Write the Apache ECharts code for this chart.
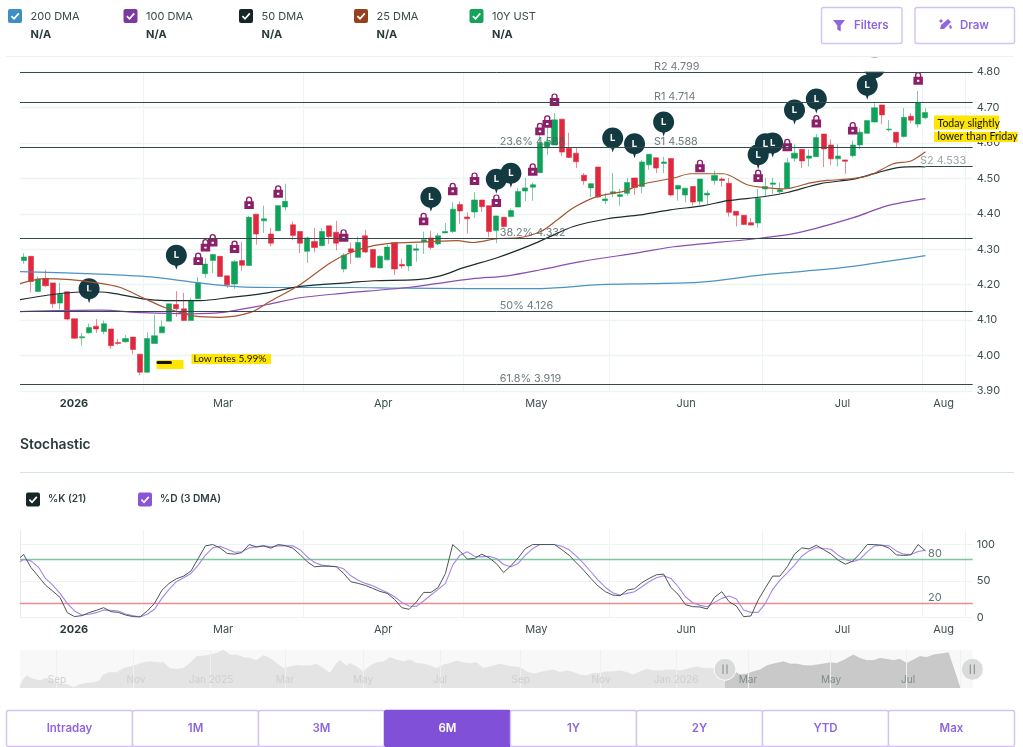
<!DOCTYPE html>
<html>
<head>
<meta charset="utf-8">
<title>10Y UST</title>
<style>html,body{margin:0;padding:0;background:#fff}#c{width:1023px;height:747px}</style>
<script src="https://cdn.jsdelivr.net/npm/echarts@6/dist/echarts.min.js"></script>
</head>
<body>
<div id="c"></div>
<script>
// [open, close, low, high] for each session
const candles = [
[4.268,4.278,4.259,4.289],[4.280,4.209,4.178,4.280],[4.181,4.216,4.181,4.223],[4.216,4.197,4.194,4.242],[4.205,4.146,4.134,4.205],
[4.148,4.173,4.130,4.205],[4.180,4.103,4.099,4.180],[4.104,4.049,4.047,4.104],[4.050,4.053,4.028,4.064],[4.064,4.079,4.062,4.090],
[4.083,4.075,4.064,4.103],[4.068,4.090,4.060,4.099],[4.075,4.028,4.019,4.075],[4.037,4.034,4.030,4.047],[4.039,4.048,4.036,4.058],
[4.052,4.017,4.004,4.052],[4.004,3.953,3.944,4.004],[3.953,4.048,3.951,4.066],[4.034,4.056,4.034,4.115],[4.064,4.081,4.064,4.099],
[4.097,4.146,4.097,4.146],[4.144,4.132,4.109,4.182],[4.132,4.099,4.098,4.177],[4.099,4.153,4.099,4.162],[4.160,4.206,4.160,4.222],
[4.231,4.258,4.219,4.275],[4.268,4.285,4.233,4.287],[4.280,4.223,4.222,4.280],[4.225,4.200,4.191,4.225],[4.202,4.265,4.188,4.270],
[4.268,4.255,4.239,4.321],[4.254,4.390,4.253,4.394],[4.399,4.343,4.313,4.399],[4.380,4.386,4.346,4.423],[4.343,4.317,4.308,4.360],
[4.352,4.423,4.352,4.423],[4.419,4.435,4.409,4.485],[4.369,4.339,4.325,4.378],[4.350,4.317,4.289,4.350],[4.294,4.332,4.261,4.336],
[4.322,4.305,4.291,4.360],[4.310,4.350,4.308,4.360],[4.366,4.336,4.315,4.366],[4.348,4.317,4.297,4.380],[4.244,4.283,4.235,4.289],
[4.301,4.292,4.259,4.319],[4.277,4.319,4.275,4.336],[4.338,4.292,4.289,4.355],[4.299,4.249,4.247,4.299],[4.247,4.280,4.247,4.283],
[4.270,4.306,4.268,4.313],[4.319,4.244,4.227,4.319],[4.257,4.253,4.245,4.272],[4.253,4.312,4.239,4.312],[4.297,4.301,4.265,4.315],
[4.321,4.327,4.287,4.349],[4.332,4.305,4.299,4.352],[4.315,4.338,4.312,4.346],[4.346,4.350,4.346,4.374],[4.350,4.413,4.346,4.433],
[4.426,4.408,4.372,4.435],[4.391,4.386,4.344,4.404],[4.405,4.439,4.388,4.461],[4.439,4.420,4.405,4.439],[4.423,4.350,4.334,4.423],
[4.353,4.394,4.317,4.394],[4.390,4.364,4.361,4.390],[4.392,4.409,4.390,4.415],[4.419,4.463,4.419,4.472],[4.464,4.473,4.435,4.501],
[4.475,4.482,4.437,4.488],[4.516,4.599,4.516,4.623],[4.586,4.603,4.566,4.651],[4.594,4.665,4.594,4.684],[4.667,4.574,4.563,4.667],
[4.585,4.559,4.557,4.629],[4.571,4.547,4.529,4.588],[4.509,4.493,4.482,4.515],[4.473,4.485,4.447,4.487],[4.532,4.447,4.444,4.532],
[4.437,4.442,4.427,4.458],[4.457,4.462,4.447,4.515],[4.449,4.454,4.423,4.470],[4.458,4.488,4.451,4.501],[4.501,4.474,4.453,4.501],
[4.477,4.546,4.458,4.552],[4.538,4.568,4.524,4.568],[4.558,4.529,4.515,4.558],[4.542,4.546,4.515,4.561],[4.556,4.453,4.449,4.556],
[4.470,4.480,4.437,4.480],[4.453,4.472,4.432,4.472],[4.477,4.433,4.423,4.477],[4.435,4.498,4.425,4.498],[4.453,4.458,4.425,4.466],
[4.494,4.508,4.482,4.522],[4.498,4.494,4.477,4.503],[4.486,4.404,4.392,4.501],[4.407,4.396,4.364,4.407],[4.396,4.370,4.368,4.396],
[4.375,4.368,4.367,4.388],[4.374,4.444,4.361,4.470],[4.470,4.477,4.447,4.501],[4.483,4.487,4.456,4.501],[4.462,4.468,4.458,4.489],
[4.472,4.544,4.472,4.557],[4.557,4.571,4.547,4.596],[4.582,4.549,4.529,4.582],[4.557,4.563,4.533,4.582],[4.561,4.615,4.560,4.625],
[4.625,4.583,4.532,4.625],[4.594,4.555,4.538,4.610],[4.555,4.563,4.533,4.596],[4.552,4.548,4.513,4.552],[4.564,4.594,4.559,4.606],
[4.594,4.630,4.582,4.641],[4.627,4.663,4.627,4.663],[4.659,4.699,4.657,4.712],[4.707,4.679,4.653,4.707],[4.637,4.639,4.632,4.665],
[4.630,4.602,4.588,4.630],[4.618,4.672,4.615,4.698],[4.675,4.664,4.655,4.684],[4.653,4.714,4.643,4.746],[4.671,4.686,4.667,4.698]
];
const totalSlots = 131;
const categories = Array.from({length: totalSlots}, (_, i) => 'd' + i);

// moving averages: [session position, yield]
const dma200 = [[0,4.237],[11,4.230],[18,4.222],[23.4,4.208],[30.3,4.194],[38.5,4.192],[45.4,4.192],[52.3,4.190],[61.9,4.189],[71.6,4.189],[79.8,4.200],[86.7,4.203],[93.6,4.207],[101.8,4.227],[107.3,4.237],[114.2,4.251],[124.5,4.282]];
const dma100 = [[0,4.124],[11,4.128],[16.9,4.121],[23.4,4.118],[27.5,4.121],[34,4.144],[38.5,4.163],[44,4.175],[53.3,4.192],[62.3,4.217],[67,4.225],[71.6,4.242],[77.1,4.265],[85.3,4.291],[89.9,4.307],[101.8,4.331],[106.9,4.346],[114.6,4.389],[119.3,4.423],[124.5,4.443]];
const dma50 = [[0,4.158],[5.5,4.175],[9.5,4.180],[12.4,4.177],[16.9,4.160],[20,4.155],[24.8,4.155],[28.9,4.164],[34,4.177],[38.5,4.195],[45.4,4.206],[48.6,4.211],[54.6,4.214],[57.8,4.225],[61,4.248],[65.6,4.276],[69.8,4.308],[72.5,4.332],[76.1,4.364],[80.8,4.386],[85.3,4.397],[89.4,4.411],[94,4.423],[97.3,4.437],[102.2,4.448],[105.5,4.460],[110.1,4.485],[114.6,4.498],[117.9,4.516],[120.7,4.530],[123.8,4.533],[124.5,4.532]];
const dma25 = [[0,4.203],[3.4,4.217],[6.9,4.214],[10.3,4.206],[13.8,4.192],[16.9,4.163],[20,4.135],[24.1,4.111],[27.5,4.108],[31.6,4.121],[34.4,4.153],[38.5,4.200],[42.7,4.262],[45.4,4.290],[48.6,4.310],[51.9,4.318],[56,4.321],[60.1,4.324],[62.3,4.319],[65.6,4.330],[68.4,4.332],[71.6,4.350],[73.9,4.383],[76.1,4.417],[79.4,4.449],[83,4.463],[85.3,4.482],[89.9,4.501],[92.2,4.513],[96.7,4.513],[100,4.482],[102.8,4.473],[105,4.470],[108.7,4.487],[111,4.494],[114.5,4.499],[117,4.510],[120.1,4.541],[122.5,4.549],[124.5,4.575]];

// stochastic
const stochK = [86.3,68.5,56.6,44.3,36,27.4,6.4,1,2.3,6.4,9.6,13.2,7.8,6.8,3.2,1,0.5,8.7,19.2,37,46.6,53,56.6,63.5,80.8,98.2,100,95.4,87.7,86.8,89,100,96.8,98.2,95,100,98.6,95,86.3,76.3,69.4,70.3,70.3,69.4,60.3,48.9,46.6,43.8,39.7,35.6,32.9,24.7,13.2,11,21,34.2,34.2,41,60.3,100,90.9,80,80.8,86.8,81.7,74,61.6,70.8,81.7,94.5,100,100,100,100,93,85.4,74.9,64.8,53.4,42.9,35.2,30.6,29.7,37.4,39.3,47.5,53.4,58.4,59.4,41,31.5,17.4,14.6,14.2,11.4,27.4,35.2,21.5,15.5,0.9,1.8,23.7,40.6,56.6,56.6,69.4,86.8,95.4,94,99,93,87.2,78.5,73,77.2,87.7,100,100,99,95,85.8,85,85.8,100,91.3];
const stochD = [79.5,77.6,69.4,53.4,44.3,32.9,19.2,8.7,3.2,4.1,6.4,10,9.6,8.7,4.6,2.3,0.5,4.1,11,26,38.4,48.9,54.3,60.3,71.7,85.4,95.4,97.7,93.6,89.5,90,95.4,96.8,98.2,96.8,98.2,98.2,98.2,93,83,75.3,71.7,70.3,69.9,66.7,57,51,46.6,43.4,38.4,34.2,28.3,20.5,15.5,15,22.4,30.6,38.4,46.6,71.7,85.4,90,84,83,84,80.8,72.6,69.4,74,85.4,94.5,100,100,100,97.7,93,84,74,62.6,51,41,33.8,30.6,32.9,35.2,42,48.9,54.3,57,53.4,42,28.3,20,16.4,14.6,20.5,26,29.2,25.1,10,6.8,6.8,19.2,38.4,51,61.2,71.7,84,91.3,95.9,94.5,93.6,85.4,79.5,76.3,79.9,90,98.2,99,98.2,91.3,86.8,86.3,90.4,92.2];
const stochKStart = 82;
const stochDStart = 76.3;
const stochLevels = [[80,'80','#7dc79b'],[20,'20','#ee8a90']];

// pivot and retracement levels
const levels = [4.799,4.714,4.588,4.332,4.126,3.919];
const s2Level = 4.533;
const s2Span = [124.5,131];
const levelNotes = [
  ['R2 4.799',87.1,4.799,'#4b5a5c'],['R1 4.714',87.1,4.714,'#4b5a5c'],['S1 4.588',87.1,4.588,'#4b5a5c'],
  ['S2 4.533',123.7,4.533,'#858f90'],['23.6% 4.588',65.9,4.588,'#4b5a5c'],['38.2% 4.332',65.9,4.332,'#4b5a5c'],
  ['50% 4.126',65.9,4.126,'#4b5a5c'],['61.8% 3.919',65.9,3.919,'#4b5a5c']
];

// news pins and paywalled-note locks: [session, yield]
const pins = [[21,4.277],[9,4.183],[56,4.441],[65,4.492],[67,4.509],[81,4.608],[84,4.592],[88,4.653],[101,4.561],[103,4.594],[102,4.592],[106,4.687],[109,4.718],[117,4.795],[116,4.757]];
const locks = [[24,4.273],[25,4.311],[26,4.325],[29,4.307],[31,4.431],[35,4.463],[44,4.339],[55,4.385],[59,4.470],[62,4.499],[65,4.437],[70,4.525],[71,4.639],[72,4.660],[73,4.722],[93,4.535],[101,4.507],[105,4.594],[109,4.661],[114,4.641],[123,4.782]];

// axis labels
const monthBoundaries = [17,39,61,81,102,124,130];
const monthLabels = {7.43:'2026',27.93:'Mar',49.95:'Apr',71:'May',91.6:'Jun',113.1:'Jul',127:'Aug'};
const stochTicks = [0,50,100];

// navigator history: [position, yield]
const navHistory = [[60,3.62],[70,3.86],[80,3.97],[100,3.86],[120,3.82],[140,3.89],[160,3.78],[180,3.71],[200,3.69],[220,3.60],[240,3.69],[260,3.73],[280,3.75],[300,3.82],[310,4.00],[330,4.08],[350,4.07],[370,4.21],[390,4.26],[410,4.32],[430,4.40],[450,4.42],[470,4.40],[490,4.40],[510,4.21],[530,4.18],[550,4.21],[570,4.37],[590,4.59],[610,4.61],[630,4.64],[650,4.69],[670,4.80],[690,4.64],[710,4.64],[730,4.56],[750,4.53],[770,4.46],[790,4.62],[810,4.53],[830,4.37],[850,4.21],[870,4.26],[890,4.30],[910,4.29],[930,4.29],[950,4.35],[970,4.21],[990,4.05],[1010,4.37],[1020,4.46],[1040,4.29],[1050,4.37],[1070,4.26],[1090,4.10],[1110,4.29],[1130,4.39],[1150,4.42],[1170,4.56],[1190,4.48],[1210,4.42],[1230,4.48],[1250,4.37],[1270,4.35],[1290,4.29],[1310,4.21],[1330,4.32],[1350,4.37],[1370,4.45],[1390,4.39],[1410,4.37],[1430,4.39],[1450,4.21],[1470,4.26],[1490,4.32],
[1500,4.35],[1520,4.29],[1540,4.26],[1560,4.24],[1580,4.10],[1600,4.03],[1620,4.08],[1640,4.13],[1660,4.16],[1680,4.08],[1700,4.13],[1720,4.08],[1740,4.00],[1760,3.97],[1780,4.05],[1800,4.05],[1820,4.10],[1840,4.10],[1860,4.13],[1880,4.08],[1900,4.00],[1920,4.10],[1940,4.18],[1960,4.13],[1980,4.13],[2000,4.16],[2020,4.16],[2040,4.13],[2060,4.18],[2090,4.26],[2110,4.21],[2140,4.21],[2175,4.16],[2200,4.13],[2220,4.00],[2240,4.03],[2260,4.10],[2280,4.16],[2300,4.29],[2320,4.35],[2350,4.42],[2370,4.35],[2390,4.35],[2410,4.30],[2430,4.29],[2450,4.32],[2470,4.35],[2490,4.39],[2510,4.37],[2530,4.46],[2560,4.64],[2580,4.53],[2600,4.46],[2620,4.46],[2640,4.53],[2660,4.50],[2680,4.46],[2700,4.50],[2720,4.37],[2740,4.48],[2760,4.59],[2780,4.56],[2800,4.64],[2820,4.67],[2845,4.71],[2880,3.58]];
const navSplit = 2175;
const navLabels = {171:'Sep',408:'Nov',633:'Jan 2025',855:'Mar',1089:'May',1320:'Jul',1562:'Sep',1803:'Nov',2028:'Jan 2026',2244:'Mar',2493:'May',2724:'Jul'};
const navBoundaries = [170,400,630,855,1090,1320,1560,1800,2030,2245,2490,2720,2880];

// interface text
const legendItems = [['200 DMA','#3e8ec4',8],['100 DMA','#7b3b9e',123.5],['50 DMA','#142628',239],['25 DMA','#96401f',354],['10Y UST','#15a35a',469.5]];
const stochLegend = [['%K (21)','#142628',26,48],['%D (3 DMA)','#8a56d8',138,160]];
const rangeButtons = ['Intraday','1M','3M','6M','1Y','2Y','YTD','Max'];
const activeRange = '6M';

const UI = 'Inter, "Noto Sans", sans-serif';
const NOTE = 'Lato, "Open Sans", sans-serif';
const INK = '#2f3e40', PURPLE = '#8e66e0', EDGE = '#d3c3f3';
const GRID = '#edf4f2', FIB = '#34494b';

const PIN = 'path://M10.5 0C4.7 0 0 4.7 0 10.5C0 15.9 4 20.3 9.2 20.9L10.5 25L11.8 20.9C17 20.3 21 15.9 21 10.5C21 4.7 16.3 0 10.5 0Z';
const LOCK = 'path://M1 7H13V19H1ZM5.5 11.5V14.5H8.5V11.5ZM3 7V4.5A4 4.5 0 0 1 11 4.5V7H9.2V4.5A2.2 2.7 0 0 0 4.8 4.5V7Z';

const g = [];
function rect(x, y, w, h, fill, stroke, r, lw, z) {
  g.push({type:'rect', z:z||50, silent:true, shape:{x, y, width:w, height:h, r:r||0},
    style:{fill:fill||'transparent', stroke:stroke||null, lineWidth:lw||1}});
}
function text(t, x, y, o) {
  o = o || {};
  g.push({type:'text', z:o.z||60, silent:true, x, y, style:{text:t, fill:o.color||INK,
    font:(o.weight||400)+' '+(o.size||12)+'px '+(o.family||UI),
    textAlign:o.align||'left', textVerticalAlign:'middle', verticalAlign:'middle'}});
}
function check(x, y, c) {
  rect(x, y, 14, 14, c, null, 2);
  g.push({type:'polyline', z:55, silent:true, shape:{points:[[x+3.4,y+7.2],[x+6,y+9.8],[x+10.8,y+4.4]]},
    style:{stroke:'#fff', lineWidth:1.7, fill:'none'}});
}
function poly(points, fill) {
  g.push({type:'polygon', z:60, silent:true, shape:{points}, style:{fill}});
}
legendItems.forEach(([n,c,x]) => {
  check(x, 9, c);
  text(n, x+22.5, 16.5, {size:11, color:'#3a4a4c'});
  text('N/A', x+22.5, 34.5, {size:11, weight:700, color:'#2a393b'});
});
g.push({type:'line', z:1, silent:true, shape:{x1:6,y1:56.5,x2:1014,y2:56.5}, style:{stroke:'#eef1f1',lineWidth:1}});
rect(821.5,7.5,80.5,36,'#fff',EDGE,2,1.4);
rect(915,7.5,99.5,36,'#fff',EDGE,2,1.4);
poly([[833,20],[845,20],[840.7,25.5],[840.7,31.5],[837.3,29.5],[837.3,25.5]], PURPLE);
text('Filters', 854, 25.5, {size:11.5, weight:600, color:PURPLE});
poly([[940,29],[941,25],[948,19],[951,22],[944,29]], PURPLE);
poly([[939,21],[941,19],[943,21],[941,23]], PURPLE);
poly([[949,26],[951,25],[952,28],[950,29]], PURPLE);
text('Draw', 960, 25.5, {size:11.5, weight:600, color:PURPLE});

// the plot area ends at the R2 line: the pin that runs past it is cut off there
rect(858,57.5,30,14.2,'#fff');

text('Stochastic', 20, 444.5, {size:13.8, weight:600, color:'#2b3a3c'});
g.push({type:'line', z:1, silent:true, shape:{x1:20,y1:472.5,x2:1014,y2:472.5}, style:{stroke:'#d5e4e1',lineWidth:1}});
stochLegend.forEach(([n,c,x,tx]) => { check(x, 492.5, c); text(n, tx, 499, {size:10.2, weight:600, color:'#2f3e40'}); });

rangeButtons.forEach((b,i) => {
  const x = 6.5 + i*126;
  const on = b === activeRange;
  rect(x, 710.5, 126, 36, on ? '#8150d8' : '#fff', on ? '#8150d8' : EDGE, 2, 1.4);
  text(b, x+63, 729, {size:11.5, weight:600, color:on ? '#fff' : PURPLE, align:'center'});
});

// hand annotations
rect(156.5,360,27,9,'#ffe600');
rect(156.5,361,15.5,3,'#111',null,1.5,52);
rect(191.5,354,79.5,10,'#ffe600');
text('Low rates 5.99%', 193.5, 359, {size:10, family:NOTE, color:'#111'});
rect(934,115.5,65,14,'#ffe600');
rect(934,132,83.5,10,'#ffe600');
text('Today slightly', 937.5, 123.5, {size:10.5, family:NOTE, color:'#111'});
text('lower than Friday', 937.5, 137, {size:10.5, family:NOTE, color:'#111'});

// navigator handles
[725,972.3].forEach(cx => {
  g.push({type:'circle', z:58, silent:true, shape:{cx, cy:669.3, r:11}, style:{fill:'#dadada', stroke:'#fff', lineWidth:1}});
  rect(cx-2.5,664.5,1,9.5,'#7d8c8c',null,0,1,59);
  rect(cx+1.5,664.5,1,9.5,'#7d8c8c',null,0,1,59);
});

const chart = echarts.init(document.getElementById('c'), null, {width:1023, height:747});
const L = 20, W = 952.7;
const axisFont = {fontFamily:UI, fontSize:11, color:'#3f4e50'};

function monthAxis(gridIndex) {
  return {type:'value', gridIndex, position:'bottom', min:0, max:totalSlots,
    axisLine:{show:false},
    axisTick:{show:false, customValues:monthBoundaries},
    splitLine:{show:true, lineStyle:{color:GRID, width:1}},
    axisLabel:Object.assign({}, axisFont, {margin:7, showMinLabel:true, showMaxLabel:true,
      customValues:Object.keys(monthLabels).map(Number),
      formatter:v => monthLabels[v] === '2026' ? '{b|2026}' : (monthLabels[v] || ''),
      rich:{b:{fontFamily:UI, fontSize:11, fontWeight:700, color:'#2a393b'}}})};
}

const option = {
  animation:false,
  backgroundColor:'#fff',
  graphic:{elements:g},
  grid:[
    {left:L, top:72, width:W, height:319},
    {left:L, top:530, width:W, height:87.3},
    {left:L, top:650, width:W, height:38, show:true, backgroundColor:'#f8f8f8', borderWidth:0}
  ],
  xAxis:[
    {type:'category', gridIndex:0, position:'bottom', data:categories, show:false, boundaryGap:true},
    monthAxis(0),
    monthAxis(1),
    {type:'value', gridIndex:2, position:'bottom', min:60, max:2918, z:10,
      axisLine:{show:false},
      axisTick:{show:false, customValues:navBoundaries},
      splitLine:{show:true, lineStyle:{color:'#f0f0f0', width:1}},
      axisLabel:{inside:true, margin:3, fontFamily:UI, fontSize:10, hideOverlap:false,
        customValues:Object.keys(navLabels).map(Number),
        color:v => v >= navSplit ? '#7f8c8c' : '#cfcfcf',
        formatter:v => navLabels[v] || ''}}
  ],
  yAxis:[
    {type:'value', gridIndex:0, position:'right', min:3.9, max:4.8, interval:0.1,
      axisLine:{show:false}, axisTick:{show:false},
      splitLine:{show:true, lineStyle:{color:GRID, width:1.4}},
      axisLabel:Object.assign({}, axisFont, {margin:4, formatter:v => v.toFixed(2)})},
    {type:'value', gridIndex:1, position:'right', min:0, max:120,
      axisLine:{show:true, lineStyle:{color:'#e3ebe9'}},
      axisTick:{show:false, customValues:stochTicks},
      splitLine:{show:true, lineStyle:{color:GRID, width:1}},
      axisLabel:Object.assign({}, axisFont, {margin:4, customValues:stochTicks})},
    {type:'value', gridIndex:2, position:'right', min:3.58, max:4.8, show:false, splitLine:{show:false}}
  ],
  series:[
    {name:'10Y UST', type:'candlestick', xAxisIndex:0, yAxisIndex:0, data:candles, barWidth:5.6, z:2,
      itemStyle:{color:'#0fa25a', color0:'#e0283e', borderColor:'rgba(15,162,90,0.55)', borderColor0:'rgba(224,40,62,0.55)', borderWidth:1},
      markLine:{silent:true, symbol:'none', animation:false, z:6, precision:3, label:{show:false},
        lineStyle:{color:FIB, type:'solid', width:1},
        data:levels.map(v => ({yAxis:v}))}},
    {name:'Pins', type:'scatter', xAxisIndex:0, yAxisIndex:0, clip:true, z:3,
      symbol:PIN, symbolSize:[21,25], itemStyle:{color:'#123a40', opacity:1},
      label:{show:true, position:'inside', offset:[0,-2], formatter:'L', color:'#fff', fontFamily:UI, fontSize:9.5, fontWeight:700},
      data:pins.map(p => p[1] > 4.79 ? {value:p, symbolOffset:[0,-4]} : p)},
    {name:'Locks', type:'scatter', xAxisIndex:0, yAxisIndex:0, z:4,
      symbol:LOCK, symbolSize:[9.5,12.5], itemStyle:{color:'#8c1f68', opacity:1}, data:locks},
    {name:'200 DMA', type:'line', xAxisIndex:1, yAxisIndex:0, data:dma200, smooth:0.3, showSymbol:false, z:5, lineStyle:{color:'#4a93c6', width:1.2}},
    {name:'100 DMA', type:'line', xAxisIndex:1, yAxisIndex:0, data:dma100, smooth:0.3, showSymbol:false, z:5, lineStyle:{color:'#8a4db2', width:1.2}},
    {name:'50 DMA', type:'line', xAxisIndex:1, yAxisIndex:0, data:dma50, smooth:0.3, showSymbol:false, z:5, lineStyle:{color:'#1f2b2d', width:1.2},
      markLine:{silent:true, symbol:'none', animation:false, z:6, precision:3, label:{show:false},
        lineStyle:{color:FIB, type:'solid', width:1},
        data:[[{coord:[s2Span[0],s2Level]},{coord:[s2Span[1],s2Level]}]]}},
    {name:'25 DMA', type:'line', xAxisIndex:1, yAxisIndex:0, data:dma25, smooth:0.3, showSymbol:false, z:5, lineStyle:{color:'#a4552f', width:1.2}},
    {name:'Level notes', type:'scatter', xAxisIndex:1, yAxisIndex:0, clip:false, z:7, symbolSize:1,
      itemStyle:{color:'transparent'},
      data:levelNotes.map(n => ({value:[n[1],n[2]], name:n[0],
        label:{show:true, position:'right', distance:0, offset:[0,-5.5], formatter:n[0], color:n[3], fontFamily:UI, fontSize:10.8}}))},
    {name:'%D', type:'line', xAxisIndex:2, yAxisIndex:1, showSymbol:false, z:5, lineStyle:{color:'#a885e8', width:1.1},
      data:[[0,stochDStart]].concat(stochD.map((v,i) => [i+0.5,v])),
      markLine:{silent:true, symbol:'none', animation:false, z:3, label:{show:false},
        data:stochLevels.map(l => ({yAxis:l[0], lineStyle:{color:l[2], type:'solid', width:1.4}}))}},
    {name:'%K', type:'line', xAxisIndex:2, yAxisIndex:1, showSymbol:false, z:6, lineStyle:{color:'#4a5658', width:1},
      data:[[0,stochKStart]].concat(stochK.map((v,i) => [i+0.5,v]))},
    {name:'Stoch notes', type:'scatter', xAxisIndex:2, yAxisIndex:1, clip:false, z:7, symbolSize:1,
      itemStyle:{color:'transparent'},
      data:stochLevels.map(l => ({value:[124.8,l[0]],
        label:{show:true, position:'right', distance:0, offset:[0,-5], formatter:l[1], color:'#3f4e50', fontFamily:UI, fontSize:11}}))},
    {name:'History', type:'line', xAxisIndex:3, yAxisIndex:2, showSymbol:false, z:3, lineStyle:{color:'#e0e0e0', width:0.6},
      areaStyle:{color:'#e4e4e4', opacity:1}, data:navHistory.filter(p => p[0] <= navSplit)},
    {name:'Selected', type:'line', xAxisIndex:3, yAxisIndex:2, showSymbol:false, z:3, lineStyle:{color:'#bdbdbd', width:0.6},
      areaStyle:{color:'#c9c9c9', opacity:1}, data:navHistory.filter(p => p[0] >= navSplit)}
  ]
};
chart.setOption(option);
</script>
</body>
</html>
